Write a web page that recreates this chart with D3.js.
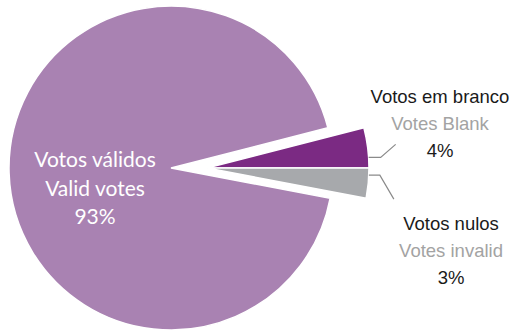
<!DOCTYPE html>
<html><head><meta charset="utf-8">
<script src="https://cdn.jsdelivr.net/npm/d3@7"></script>
<style>html,body{margin:0;padding:0;background:#fff;}svg{display:block;}</style>
</head><body>
<svg id="c" width="517" height="330"></svg>
<script>
const categories = ["Votos em branco", "Votos nulos", "Votos válidos"];
const englishLabels = ["Votes Blank", "Votes invalid", "Valid votes"];
const values = [4, 3, 93];
const colors = ["#7b2a83", "#a7a9ac", "#a982b2"];

const svg = d3.select("#c");
const cx = 171, cy = 168, R = 162, explode = 36;

const startA = Math.PI/2 - (values[0]/d3.sum(values))*2*Math.PI;
const pie = d3.pie().sort(null).value(d => d)
  .startAngle(startA).endAngle(startA + 2*Math.PI);
const arcs = pie(values);
const arc = d3.arc().innerRadius(0).outerRadius(R);

const g = svg.append("g");
arcs.forEach((a, i) => {
  const dx = i < 2 ? explode : 0;
  g.append("path")
    .attr("d", arc(a))
    .attr("transform", `translate(${cx+dx},${cy})`)
    .attr("fill", colors[i])
    .attr("stroke", "#fff").attr("stroke-width", 1.5);
});

const ox = cx + explode;
function edgePt(angle, r){ return [ox + r*Math.sin(angle), cy - r*Math.cos(angle)]; }
const aBlank = (arcs[0].startAngle + arcs[0].endAngle)/2 + 0.06;
const aNull = (arcs[1].startAngle + arcs[1].endAngle)/2 - 0.05;
const pB = edgePt(aBlank, R);
const pN = edgePt(aNull, R);
svg.append("polyline")
  .attr("points", [pB, [pB[0]+12, pB[1]], [pB[0]+27, pB[1]-13]].map(p=>p.join(",")).join(" "))
  .attr("fill","none").attr("stroke","#8a8a8a").attr("stroke-width",1.2);
svg.append("polyline")
  .attr("points", [pN, [pN[0]+11, pN[1]], [pN[0]+25, pN[1]+24]].map(p=>p.join(",")).join(" "))
  .attr("fill","none").attr("stroke","#8a8a8a").attr("stroke-width",1.2);

const rightFont = "'Liberation Sans', Arial, sans-serif";
function rlabel(x, y, lines){
  lines.forEach((l, k) => {
    svg.append("text").attr("x", x).attr("y", y + k*27)
      .attr("text-anchor","middle")
      .attr("font-family", rightFont).attr("font-size", 18.5)
      .attr("fill", k === 1 ? "#a3a3a3" : "#1a1a1a")
      .text(l);
  });
}
const pct = d => d + "%";
rlabel(440, 103, [categories[0], englishLabels[0], pct(values[0])]);
rlabel(451, 230, [categories[1], englishLabels[1], pct(values[1])]);

[categories[2], englishLabels[2], pct(values[2])].forEach((l, k) => {
  svg.append("text").attr("x", 95).attr("y", 167 + k*28.5)
    .attr("text-anchor","middle")
    .attr("font-family","Lato, 'Open Sans', sans-serif").attr("font-size", 21)
    .attr("fill","#ffffff").text(l);
});
</script>
</body></html>
